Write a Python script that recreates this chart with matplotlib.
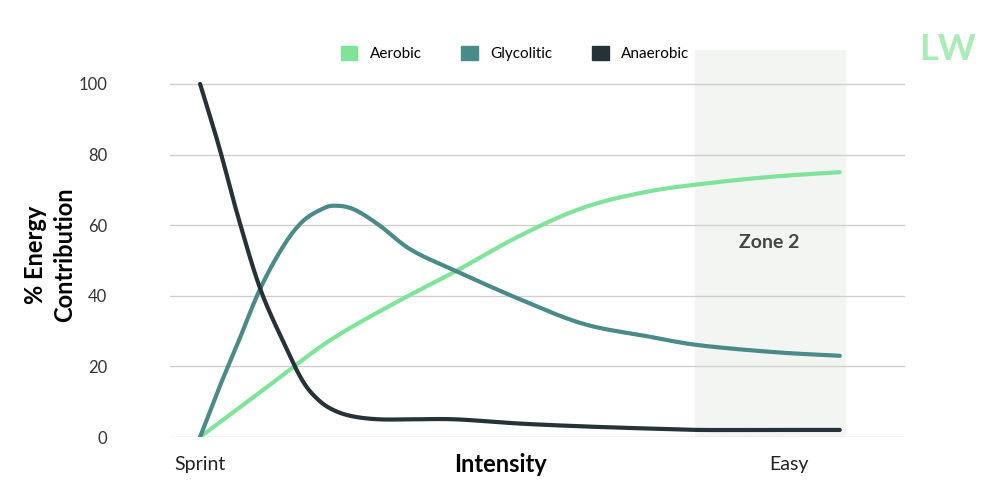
import numpy as np
import matplotlib
matplotlib.use("Agg")
import matplotlib.pyplot as plt
from matplotlib.patches import Patch

plt.rcParams["font.family"] = "Lato"

x_aer = [0, 1, 2, 3, 4, 5, 6, 7, 8, 9, 10]
aerobic = [0, 13.5, 27, 37.5, 47, 57, 65, 69.5, 72, 73.8, 75]
x_gly = [0, 0.3, 0.6, 0.94, 1.3, 1.6, 1.9, 2.1, 2.4, 2.8, 3.3, 4, 5, 6, 7, 7.8, 9, 10]
glycolitic = [0, 14, 27, 42, 54, 61, 64.5, 65.5, 64.5, 60, 53, 47, 39, 32, 28.5, 26, 24, 23]
x_ana = [0, 0.3, 0.6, 0.94, 1.3, 1.6, 1.85, 2.1, 2.4, 2.8, 3.3, 4, 5, 6, 7, 7.8, 9, 10]
anaerobic = [100, 82, 62, 42, 27, 16, 10.5, 7.5, 5.8, 5, 5, 5, 3.8, 3, 2.4, 2, 2, 2]
zone2 = (7.73, 10.08)
yticks = [0, 20, 40, 60, 80, 100]
xtick_pos = [0, 9.2]
xtick_labels = ["Sprint", "Easy"]

c_aer, c_gly, c_ana = "#7fe39a", "#4a8a88", "#253238"


def smooth(xs, ys, n=20):
    """Catmull-Rom rendering through the given points."""
    xs, ys = np.asarray(xs, float), np.asarray(ys, float)
    px = np.concatenate([[2 * xs[0] - xs[1]], xs, [2 * xs[-1] - xs[-2]]])
    py = np.concatenate([[2 * ys[0] - ys[1]], ys, [2 * ys[-1] - ys[-2]]])
    ox, oy = [], []
    t = np.linspace(0, 1, n, endpoint=False)
    for i in range(1, len(px) - 2):
        for P, out in ((px, ox), (py, oy)):
            p0, p1, p2, p3 = P[i - 1], P[i], P[i + 1], P[i + 2]
            out.extend(0.5 * (2 * p1 + (-p0 + p2) * t + (2 * p0 - 5 * p1 + 4 * p2 - p3) * t ** 2
                              + (-p0 + 3 * p1 - 3 * p2 + p3) * t ** 3))
    ox.append(xs[-1]); oy.append(ys[-1])
    return ox, oy


fig = plt.figure(figsize=(10, 5), dpi=100)
ax = fig.add_axes([0.17, 0.126, 0.735, 0.774])
ax.set_xlim(-0.47, 11.02)
ax.set_ylim(0, 109.6)
ax.axvspan(*zone2, color="#f3f5f3", zorder=0)
for y in yticks:
    ax.axhline(y, color="#cfcfcf", lw=1, zorder=1)
ax.plot(*smooth(x_aer, aerobic), color=c_aer, lw=3, zorder=3, solid_capstyle="round")
ax.plot(*smooth(x_gly, glycolitic), color=c_gly, lw=3, zorder=3, solid_capstyle="round")
ax.plot(*smooth(x_ana, anaerobic), color=c_ana, lw=3, zorder=4, solid_capstyle="round")
for s in ax.spines.values():
    s.set_visible(False)
ax.set_yticks(yticks)
ax.set_yticklabels([str(v) for v in yticks], fontsize=12, color="#333333")
ax.set_xticks(xtick_pos)
ax.set_xticklabels(xtick_labels, fontsize=14, color="#222222")
ax.tick_params(length=0, axis="y", pad=45)
ax.tick_params(length=0, axis="x", pad=14)
ax.text(8.9, 55, "Zone 2", fontsize=14, fontweight="bold", color="#444444", ha="center", va="center")
fig.text(0.5, 0.07, "Intensity", fontsize=17, fontweight="bold", ha="center", va="center")
fig.text(0.05, 0.49, "% Energy\nContribution", fontsize=17, fontweight="bold", ha="center", va="center", rotation=90, linespacing=1.3)
fig.text(0.948, 0.9, "LW", fontsize=26, fontweight="bold", color="#a8ecb8", ha="center", va="center")
handles = [Patch(color=c_aer, label="Aerobic"), Patch(color=c_gly, label="Glycolitic"), Patch(color=c_ana, label="Anaerobic")]
fig.legend(handles=handles, loc="center", bbox_to_anchor=(0.515, 0.893), ncol=3, frameon=False,
           fontsize=11, handlelength=1.1, handleheight=1.1, columnspacing=2.6)
fig.savefig("out.png", dpi=100)
